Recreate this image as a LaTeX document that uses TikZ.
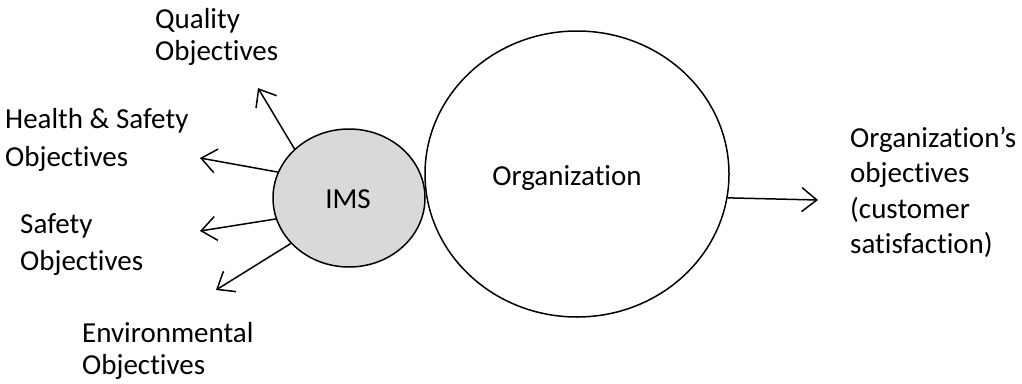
\documentclass[tikz,border=0pt]{standalone}
\usepackage{fontspec}
\setmainfont{Carlito}[Ligatures={NoCommon,NoContextual}]
\usetikzlibrary{arrows.meta,shapes.geometric}
\tikzset{
  lbl/.style={inner sep=0pt, anchor=base west, font=\fontsize{29}{35}\selectfont},
  ctr/.style={inner sep=0pt, anchor=base, font=\fontsize{29}{35}\selectfont},
  conn/.style={line width=1.5pt, -{Straight Barb[length=15pt,width=24pt,line width=1.5pt]}},
  blob/.style={ellipse, draw, line width=1.5pt, inner sep=0pt}
}
\begin{document}
\begin{tikzpicture}[x=1pt,y=-1pt]
\useasboundingbox (0,0) rectangle (1022,383);
% shapes
\node[blob, fill={rgb,255:red,217;green,217;blue,217}, minimum width=152pt, minimum height=138pt] (ims) at (349,198) {};
\node[blob, minimum width=304pt, minimum height=286pt] (org) at (577,174) {};
% texts
\node[ctr] (imst) at (348,208) {IMS};
\node[ctr] (orgt) at (567,185) {Organization};
\node[lbl] (qual) at (155,28) {\vtop{\baselineskip=32pt\hbox{Quality}\hbox{Objectives}}};
\node[lbl] (hs) at (5,128) {\vtop{\baselineskip=38pt\hbox{Health \& Safety}\hbox{Objectives}}};
\node[lbl] (saf) at (20,233) {\vtop{\baselineskip=37pt\hbox{Safety}\hbox{Objectives}}};
\node[lbl] (env) at (82,342) {\vtop{\baselineskip=32pt\hbox{Environmental}\hbox{Objectives}}};
\node[lbl] (orgobj) at (850,147) {\vtop{\baselineskip=35.5pt\hbox{Organization’s}\hbox{objectives}\hbox{(customer}\hbox{satisfaction)}}};
% arrow ends
\coordinate (tq) at (258,88);
\coordinate (th) at (200,158);
\coordinate (ts) at (200,231);
\coordinate (te) at (216,290);
\coordinate (to) at (818,200);
% connectors
\draw[conn] (ims.138.4) -- (tq);
\draw[conn] (ims.160.3) -- (th);
\draw[conn] (ims.196.1) -- (ts);
\draw[conn] (ims.218.7) -- (te);
\draw[conn] (org.-9.5) -- (to);
\end{tikzpicture}
\end{document}
